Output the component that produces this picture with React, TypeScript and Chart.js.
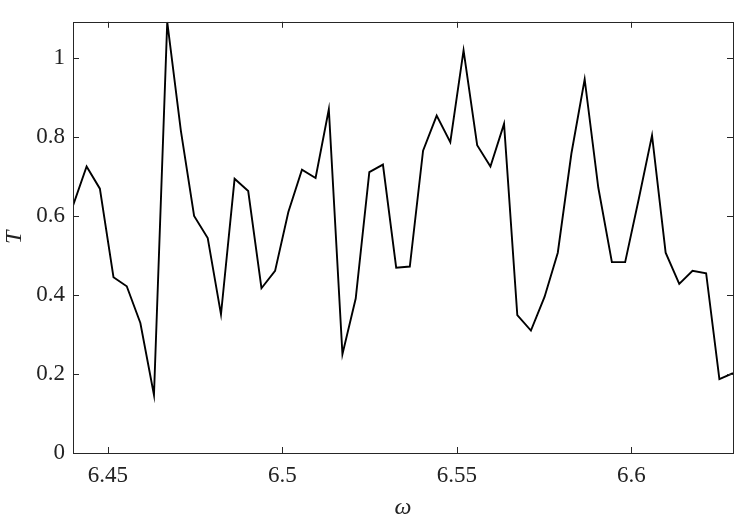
import React, { useEffect, useRef } from "react";
import { Chart, registerables } from "chart.js";

Chart.register(...registerables);

const omega = [
  6.44, 6.4439, 6.4477, 6.4516, 6.4554, 6.4593, 6.4632, 6.467, 6.4709, 6.4747,
  6.4786, 6.4824, 6.4863, 6.4902, 6.494, 6.4979, 6.5017, 6.5056, 6.5095, 6.5133,
  6.5172, 6.521, 6.5249, 6.5288, 6.5326, 6.5365, 6.5403, 6.5442, 6.5481, 6.5519,
  6.5558, 6.5596, 6.5635, 6.5673, 6.5712, 6.5751, 6.5789, 6.5828, 6.5866, 6.5905,
  6.5944, 6.5982, 6.6021, 6.6059, 6.6098, 6.6137, 6.6175, 6.6214, 6.6252, 6.6291,
];

const T = [
  0.626, 0.725, 0.669, 0.445, 0.422, 0.329, 0.147, 1.091, 0.816, 0.6,
  0.544, 0.351, 0.694, 0.663, 0.417, 0.461, 0.61, 0.717, 0.696, 0.87,
  0.25, 0.391, 0.711, 0.73, 0.469, 0.472, 0.765, 0.854, 0.787, 1.019,
  0.779, 0.725, 0.833, 0.349, 0.31, 0.395, 0.507, 0.758, 0.946, 0.672,
  0.483, 0.483, 0.643, 0.804, 0.507, 0.428, 0.461, 0.455, 0.187, 0.202,
];

const xTicks = [6.45, 6.5, 6.55, 6.6];
const xTickLabels = ["6.45", "6.5", "6.55", "6.6"];
const yTicks = [0, 0.2, 0.4, 0.6, 0.8, 1];
const yTickLabels = ["0", "0.2", "0.4", "0.6", "0.8", "1"];

const X_MIN = 6.44;
const X_MAX = 6.6291;
const Y_MIN = 0;
const Y_MAX = 1.0914;

const FONT = "'Liberation Serif', 'DejaVu Serif', serif";
const AXIS_COLOR = "#262626";

const inwardTicks = {
  id: "inwardTicks",
  afterDraw(chart: any) {
    const { ctx, chartArea } = chart;
    const xs = chart.scales.x;
    const ys = chart.scales.y;
    const len = 6;
    ctx.save();
    ctx.strokeStyle = AXIS_COLOR;
    ctx.lineWidth = 1;
    ctx.beginPath();
    xTicks.forEach((v) => {
      const px = Math.round(xs.getPixelForValue(v)) + 0.5;
      ctx.moveTo(px, chartArea.bottom);
      ctx.lineTo(px, chartArea.bottom - len);
      ctx.moveTo(px, chartArea.top);
      ctx.lineTo(px, chartArea.top + len);
    });
    yTicks.forEach((v) => {
      const py = Math.round(ys.getPixelForValue(v)) + 0.5;
      ctx.moveTo(chartArea.left, py);
      ctx.lineTo(chartArea.left + len, py);
      ctx.moveTo(chartArea.right, py);
      ctx.lineTo(chartArea.right - len, py);
    });
    ctx.stroke();
    ctx.strokeRect(
      Math.round(chartArea.left) + 0.5,
      Math.round(chartArea.top) + 0.5,
      Math.round(chartArea.right - chartArea.left),
      Math.round(chartArea.bottom - chartArea.top)
    );
    ctx.restore();
  },
};

export default function App() {
  const canvasRef = useRef<HTMLCanvasElement | null>(null);

  useEffect(() => {
    const canvas = canvasRef.current;
    if (!canvas) return;
    const chart = new Chart(canvas, {
      type: "line",
      data: {
        datasets: [
          {
            data: omega.map((x, i) => ({ x, y: T[i] })),
            borderColor: "#000000",
            borderWidth: 1.9,
            pointRadius: 0,
            tension: 0,
            fill: false,
          },
        ],
      },
      options: {
        animation: false,
        responsive: false,
        maintainAspectRatio: false,
        events: [],
        layout: { padding: { left: 0, top: 12, right: 9, bottom: 0 } },
        plugins: {
          legend: { display: false },
          tooltip: { enabled: false },
          title: { display: false },
        },
        scales: {
          x: {
            type: "linear",
            min: X_MIN,
            max: X_MAX,
            afterBuildTicks: (scale: any) => {
              scale.ticks = xTicks.map((v) => ({ value: v }));
            },
            afterFit: (scale: any) => {
              scale.height = 69;
            },
            ticks: {
              autoSkip: false,
              maxRotation: 0,
              padding: 9,
              color: "#222222",
              font: { family: FONT, size: 23 },
              callback: (v: any) => {
                const i = xTicks.findIndex((t) => Math.abs(t - Number(v)) < 1e-9);
                return i >= 0 ? xTickLabels[i] : "";
              },
            },
            grid: { display: false, drawTicks: false, tickLength: 0 },
            border: { display: false },
            title: {
              display: true,
              text: "ω",
              color: "#222222",
              font: { family: FONT, size: 24, style: "italic" },
              padding: { top: 4, bottom: 0 },
            },
          },
          y: {
            type: "linear",
            min: Y_MIN,
            max: Y_MAX,
            afterBuildTicks: (scale: any) => {
              scale.ticks = yTicks.map((v) => ({ value: v }));
            },
            afterFit: (scale: any) => {
              scale.width = 73;
            },
            ticks: {
              autoSkip: false,
              padding: 8,
              color: "#222222",
              font: { family: FONT, size: 23 },
              callback: (v: any) => {
                const i = yTicks.findIndex((t) => Math.abs(t - Number(v)) < 1e-9);
                return i >= 0 ? yTickLabels[i] : "";
              },
            },
            grid: { display: false, drawTicks: false, tickLength: 0 },
            border: { display: false },
            title: {
              display: true,
              text: "T",
              color: "#222222",
              font: { family: FONT, size: 24, style: "italic" },
              padding: { top: 0, bottom: 0 },
            },
          },
        },
      },
      plugins: [inwardTicks],
    });
    return () => chart.destroy();
  }, []);

  return (
    <div
      style={{
        position: "fixed",
        left: 0,
        top: 0,
        width: 742,
        height: 522,
        background: "#ffffff",
      }}
    >
      <canvas ref={canvasRef} width={742} height={522} style={{ display: "block" }} />
    </div>
  );
}
